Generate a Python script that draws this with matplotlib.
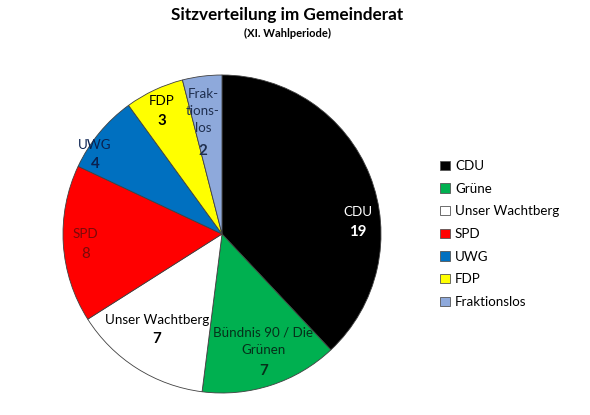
import matplotlib
matplotlib.use("Agg")
import matplotlib.pyplot as plt
from matplotlib.patches import Patch

parties = ["CDU", "Grüne", "Unser Wachtberg", "SPD", "UWG", "FDP", "Fraktionslos"]
seats = [19, 7, 7, 8, 4, 3, 2]
slice_labels = ["CDU", "Bündnis 90 / Die\nGrünen", "Unser Wachtberg", "SPD", "UWG", "FDP", "Frak-\ntions-\nlos"]
colors = ["#000000", "#00B050", "#FFFFFF", "#FF0000", "#0070C0", "#FFFF00", "#8EA9DB"]
text_colors = ["#FFFFFF", "#06301A", "#000000", "#7A0A0A", "#0A2150", "#000000", "#1F2F4F"]
value_bold = [True, True, True, False, True, True, True]
label_pos = [(0.855, 0.075), (0.26, -0.736), (-0.41, -0.60), (-0.86, -0.063),
             (-0.80, 0.50), (-0.377, 0.774), (-0.12, 0.71)]

plt.rcParams['font.family'] = ['Lato', 'DejaVu Sans']

fig = plt.figure(figsize=(5.9, 4.15), dpi=100)
W, H = 590, 415
cx, cy, r = 222, 234, 159
ax = fig.add_axes([(cx - r) / W, (H - cy - r) / H, 2 * r / W, 2 * r / H])
wedges, _ = ax.pie(seats, colors=colors, startangle=90, counterclock=False,
                   wedgeprops=dict(edgecolor="#404040", linewidth=0.6))
ax.set_xlim(-1, 1)
ax.set_ylim(-1, 1)
ax.set_aspect('equal')

fs = 9.6
for lab, val, (x, y), tc, b in zip(slice_labels, seats, label_pos, text_colors, value_bold):
    nlines = lab.count("\n") + 1
    full = nlines + 1
    lh = 0.124
    top = y + lh * (full - 1) / 2
    ax.text(x, top - lh * (nlines - 1) / 2, lab, ha='center', va='center',
            fontsize=fs, color=tc, linespacing=1.5)
    ax.text(x, top - lh * nlines, str(val), ha='center', va='center',
            fontsize=fs + 1.2, color=tc, fontweight='bold' if b else 'normal')

fig.text(287 / W, 1 - 15 / H, "Sitzverteilung im Gemeinderat", ha='center', va='center',
         fontsize=12.3, fontweight='bold')
fig.text(287 / W, 1 - 33 / H, "(XI. Wahlperiode)", ha='center', va='center',
         fontsize=8, fontweight='bold')

handles = [Patch(facecolor=c, edgecolor="#555555", linewidth=0.6) for c in colors]
fig.legend(handles, parties, loc='center left', bbox_to_anchor=(435 / W, 1 - 234 / H),
           frameon=False, fontsize=fs, handlelength=0.7, handleheight=0.7,
           handletextpad=0.4, labelspacing=0.8, borderaxespad=0)

fig.savefig("out.png", dpi=100, facecolor="white")
